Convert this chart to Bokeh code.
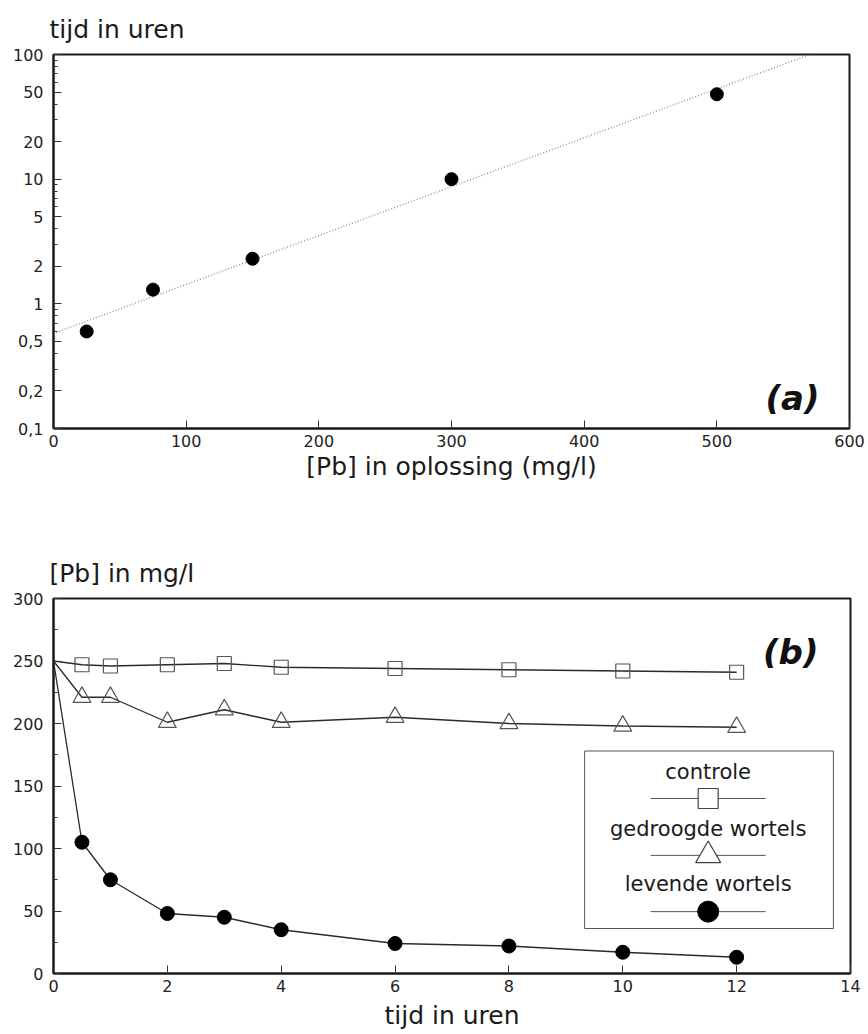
import numpy as np
from bokeh.plotting import figure
from bokeh.layouts import column
from bokeh.models import FixedTicker, CustomJSTickFormatter, Label
from bokeh.core.properties import value
from bokeh.embed import file_html
from bokeh.resources import INLINE

FONT = "DejaVu Sans"

# ---------------- data (a) ----------------
pb_oplossing = [25, 75, 150, 300, 500]          # mg/l
tijd_uren_a = [0.6, 1.3, 2.3, 10, 48]          # hours

y_ticks_a = [0.1, 0.2, 0.5, 1, 2, 5, 10, 20, 50, 100]
y_minor_a = [0.3, 0.4, 0.6, 0.7, 0.8, 0.9, 3, 4, 6, 7, 8, 9, 30, 40, 60, 70, 80, 90]
x_ticks_a = [0, 100, 200, 300, 400, 500, 600]

# ---------------- data (b) ----------------
tijd_b = [0, 0.5, 1, 2, 3, 4, 6, 8, 10, 12]
controle = [250, 247, 246, 247, 248, 245, 244, 243, 242, 241]
gedroogde = [250, 221, 221, 201, 211, 201, 205, 200, 198, 197]
levende = [250, 105, 75, 48, 45, 35, 24, 22, 17, 13]

x_ticks_b = [0, 2, 4, 6, 8, 10, 12, 14]
y_ticks_b = [0, 50, 100, 150, 200, 250, 300]
y_minor_b = [25, 75, 125, 175, 225, 275]

legend_names = ["controle", "gedroogde wortels", "levende wortels"]


def style(p):
    p.grid.visible = False
    p.outline_line_color = "#1a1a1a"
    p.outline_line_width = 2
    p.background_fill_color = "white"
    p.border_fill_color = "white"
    for ax in p.axis:
        ax.axis_line_color = "#1a1a1a"
        ax.axis_line_width = 2
        ax.major_tick_in = 8
        ax.major_tick_out = 0
        ax.minor_tick_in = 4
        ax.minor_tick_out = 0
        ax.major_tick_line_color = "#333333"
        ax.minor_tick_line_color = "#333333"
        ax.major_label_text_font = FONT
        ax.major_label_text_font_size = "16px"
        ax.major_label_text_color = "#222222"
        ax.axis_label_text_font = FONT
        ax.axis_label_text_font_size = "25px"
        ax.axis_label_text_font_style = "normal"
        ax.axis_label_text_color = "#1a1a1a"
        ax.axis_label_standoff = 2
    p.title.text_font = FONT
    p.title.text_font_size = "25px"
    p.title.text_font_style = "normal"
    p.title.text_color = "#1a1a1a"
    p.title.align = "left"
    p.title.offset = -4


# ---------------- figure (a) ----------------
p1 = figure(frame_width=796, frame_height=374, y_axis_type="log",
            x_range=(0, 600), y_range=(0.1, 100),
            output_backend="svg", toolbar_location=None,
            min_border_left=53, min_border_right=19, min_border_top=54, min_border_bottom=62,
            title="tijd in uren")
style(p1)
p1.title.standoff = 22
p1.xaxis.ticker = FixedTicker(ticks=x_ticks_a)
p1.yaxis.ticker = FixedTicker(ticks=y_ticks_a, minor_ticks=y_minor_a)
p1.yaxis.formatter = CustomJSTickFormatter(code="return tick.toString().replace('.', ',');")
p1.xaxis.axis_label = "[Pb] in oplossing (mg/l)"
p1.yaxis.major_label_standoff = 10
p1.xaxis.major_label_standoff = 6

# regression line through log10 of the data
slope, intercept = np.polyfit(np.array(pb_oplossing, float), np.log10(tijd_uren_a), 1)
x_end = (np.log10(100) - intercept) / slope
fit_x = np.linspace(0, x_end, 50)
fit_y = 10 ** (intercept + slope * fit_x)
p1.line(fit_x, fit_y, line_color="#8a8a8a", line_width=1.3, line_dash="1 2")
p1.scatter(pb_oplossing, tijd_uren_a, marker="circle", size=13,
           fill_color="black", line_color="black")

p1.add_layout(Label(x=557, y=0.177, text="(a)", text_font=FONT, text_font_size="34px",
                    text_font_style="bold italic", text_align="center",
                    text_baseline="middle", text_color="#111111"))

# ---------------- figure (b) ----------------
p2 = figure(frame_width=797, frame_height=375,
            x_range=(0, 14), y_range=(0, 300),
            output_backend="svg", toolbar_location=None,
            min_border_left=53, min_border_right=18, min_border_top=108, min_border_bottom=58,
            title="[Pb] in mg/l")
style(p2)
p2.title.standoff = 21
p2.xaxis.ticker = FixedTicker(ticks=x_ticks_b)
p2.yaxis.ticker = FixedTicker(ticks=y_ticks_b, minor_ticks=y_minor_b)
p2.xaxis.axis_label = "tijd in uren"
p2.xaxis.axis_label_standoff = 6
p2.yaxis.major_label_standoff = 10
p2.xaxis.major_label_standoff = 6

line_kw = dict(line_color="#2a2a2a", line_width=1.3)
p2.line(tijd_b, controle, **line_kw)
p2.line(tijd_b, gedroogde, **line_kw)
p2.line(tijd_b, levende, **line_kw)
p2.scatter(tijd_b[1:], controle[1:], marker="square", size=14,
           fill_color=None, line_color="#555555", line_width=1.2)
p2.scatter(tijd_b[1:], gedroogde[1:], marker="triangle", size=18,
           fill_color=None, line_color="#555555", line_width=1.2)
p2.scatter(tijd_b[1:], levende[1:], marker="circle", size=14,
           fill_color="black", line_color="black")

# legend drawn as in the original (label above sample)
leg_l, leg_r, leg_b, leg_t = 9.33, 13.70, 36, 178
leg_cx = 11.5
leg_half = 1.01
text_y = [161, 116, 72]
sample_y = [140, 94.5, 49.5]
p2.quad(left=[leg_l], right=[leg_r], bottom=[leg_b], top=[leg_t],
        fill_color="white", line_color="#555555", line_width=1)
p2.text(x=[leg_cx] * 3, y=text_y, text=legend_names, text_font=value(FONT),
        text_font_size="21px", text_align="center", text_baseline="middle",
        text_color="#1a1a1a")
for sy in sample_y:
    p2.line([leg_cx - leg_half, leg_cx + leg_half], [sy, sy], line_color="#555555", line_width=1)
p2.scatter([leg_cx], [sample_y[0]], marker="square", size=20,
           fill_color="white", line_color="#444444", line_width=1.2)
p2.scatter([leg_cx], [sample_y[1]], marker="triangle", size=25,
           fill_color="white", line_color="#444444", line_width=1.2)
p2.scatter([leg_cx], [sample_y[2]], marker="circle", size=21,
           fill_color="black", line_color="black")

p2.add_layout(Label(x=12.95, y=257, text="(b)", text_font=FONT, text_font_size="34px",
                    text_font_style="bold italic", text_align="center",
                    text_baseline="middle", text_color="#111111"))

layout = column(p1, p2, spacing=0)
open("out.html", "w").write(file_html(layout, INLINE))
